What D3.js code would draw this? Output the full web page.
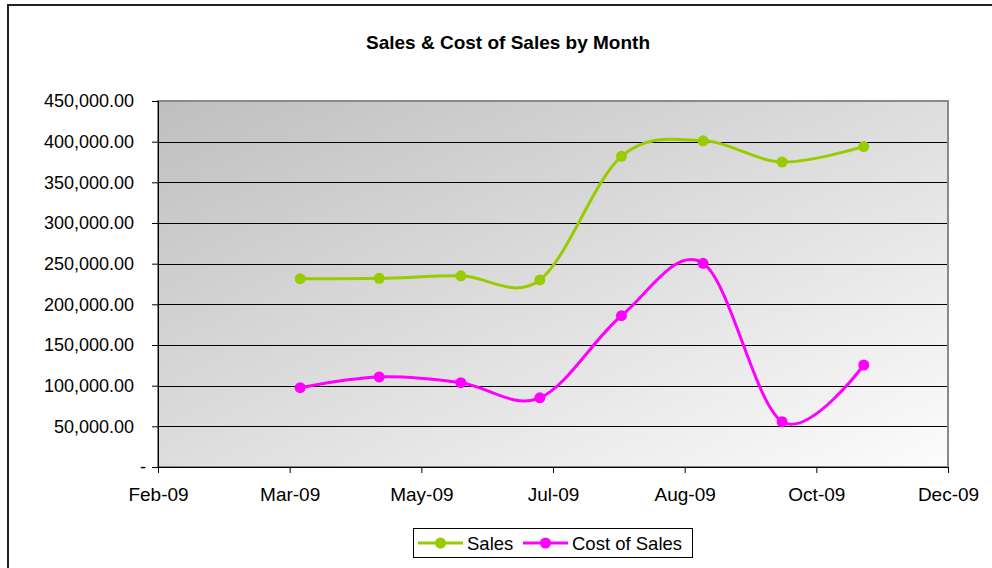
<!DOCTYPE html>
<html>
<head>
<meta charset="utf-8">
<script src="https://cdn.jsdelivr.net/npm/d3@7"></script>
<style>
  body { margin: 0; background: #fff; }
  svg { display: block; font-family: Arial, "Liberation Sans", sans-serif; }
</style>
</head>
<body>
<svg id="chart" width="992" height="568"></svg>
<script>
// month-end dates of the points
const months = ["2009-03-31", "2009-04-30", "2009-05-31", "2009-06-30",
                "2009-07-31", "2009-08-31", "2009-09-30", "2009-10-31"];
const sales = [231500, 232000, 235000, 230000, 382000, 401000, 375000, 394000];
const costOfSales = [97500, 110700, 103700, 85000, 186000, 250400, 55700, 125400];
// date axis ticks (every 50 days, as excel placed them)
const tickDates = ["2009-02-05", "2009-03-27", "2009-05-16", "2009-07-05",
                   "2009-08-24", "2009-10-13", "2009-12-02"];
const yTicks = [0, 50000, 100000, 150000, 200000, 250000, 300000, 350000, 400000, 450000];

const parse = d3.utcParse("%Y-%m-%d");
const series = [
  { name: "Sales", color: "#99cc00", values: sales },
  { name: "Cost of Sales", color: "#ff00ff", values: costOfSales }
];

const svg = d3.select("#chart");
const plotL = 158, plotR = 948, plotT = 101, plotB = 467;

const x = d3.scaleUtc()
  .domain([parse(tickDates[0]), parse(tickDates[tickDates.length - 1])])
  .range([plotL, plotR]);
const y = d3.scaleLinear().domain([0, 450000]).range([plotB, plotT]);

// outer chart border
svg.append("rect")
  .attr("x", 8).attr("y", 5).attr("width", 1000).attr("height", 600)
  .attr("fill", "#fff").attr("stroke", "#222").attr("stroke-width", 2);

svg.append("text")
  .attr("x", 508).attr("y", 49)
  .attr("text-anchor", "middle")
  .attr("font-size", 19).attr("font-weight", "bold")
  .text("Sales & Cost of Sales by Month");

// plot background
const grad = svg.append("defs").append("linearGradient")
  .attr("id", "bg").attr("x1", 0).attr("y1", 0).attr("x2", 1).attr("y2", 1);
grad.append("stop").attr("offset", 0).attr("stop-color", "#bfbfbf");
grad.append("stop").attr("offset", 1).attr("stop-color", "#fcfcfc");

svg.append("rect")
  .attr("x", plotL).attr("y", plotT)
  .attr("width", plotR - plotL).attr("height", plotB - plotT)
  .attr("fill", "url(#bg)").attr("stroke", "#8a8a8a").attr("stroke-width", 2);

// gridlines
svg.append("g")
  .selectAll("line")
  .data(yTicks.filter(d => d > 0 && d < 450000))
  .join("line")
  .attr("x1", plotL).attr("x2", plotR - 1)
  .attr("y1", d => Math.round(y(d)) + 0.5).attr("y2", d => Math.round(y(d)) + 0.5)
  .attr("stroke", "#000").attr("stroke-width", 1);

// y axis
const yAxis = svg.append("g")
  .attr("transform", `translate(${plotL},0)`)
  .call(d3.axisLeft(y).tickValues(yTicks).tickSize(6).tickPadding(18)
    .tickFormat(d => d === 0 ? "-" : d3.format(",.2f")(d)));
yAxis.select(".domain").attr("stroke", "#000");
yAxis.selectAll("text").attr("font-size", 18).attr("fill", "#000")
  .attr("font-family", "Arial, 'Liberation Sans', sans-serif");
yAxis.selectAll(".tick").filter(d => d === 0).select("text").attr("x", -12);

// x axis
const xAxis = svg.append("g")
  .attr("transform", `translate(0,${plotB})`)
  .call(d3.axisBottom(x).tickValues(tickDates.map(parse)).tickSize(6).tickPadding(15)
    .tickFormat(d3.utcFormat("%b-%y")));
xAxis.select(".domain").attr("stroke", "#000");
xAxis.selectAll("text").attr("font-size", 19).attr("fill", "#000")
  .attr("font-family", "Arial, 'Liberation Sans', sans-serif");

// lines and markers
const line = d3.line()
  .x((d, i) => x(parse(months[i])))
  .y(d => y(d))
  .curve(d3.curveCatmullRom.alpha(0));

series.forEach(s => {
  svg.append("path")
    .attr("d", line(s.values))
    .attr("fill", "none").attr("stroke", s.color).attr("stroke-width", 3);
  svg.append("g").selectAll("circle")
    .data(s.values)
    .join("circle")
    .attr("cx", (d, i) => x(parse(months[i])))
    .attr("cy", d => y(d))
    .attr("r", 5.5)
    .attr("fill", s.color);
});

// legend
const legend = svg.append("g");
legend.append("rect")
  .attr("x", 413.5).attr("y", 528.5).attr("width", 279).attr("height", 29)
  .attr("fill", "#fff").attr("stroke", "#000");
const items = legend.selectAll("g.item")
  .data(series)
  .join("g")
  .attr("transform", (d, i) => `translate(${i === 0 ? 418 : 523},543)`);
items.append("line")
  .attr("x1", 0).attr("x2", 45)
  .attr("stroke", d => d.color).attr("stroke-width", 3);
items.append("circle")
  .attr("cx", 22.5).attr("r", 5.5).attr("fill", d => d.color);
items.append("text")
  .attr("x", 49).attr("y", 7)
  .attr("font-size", 18.5)
  .text(d => d.name);
</script>
</body>
</html>
